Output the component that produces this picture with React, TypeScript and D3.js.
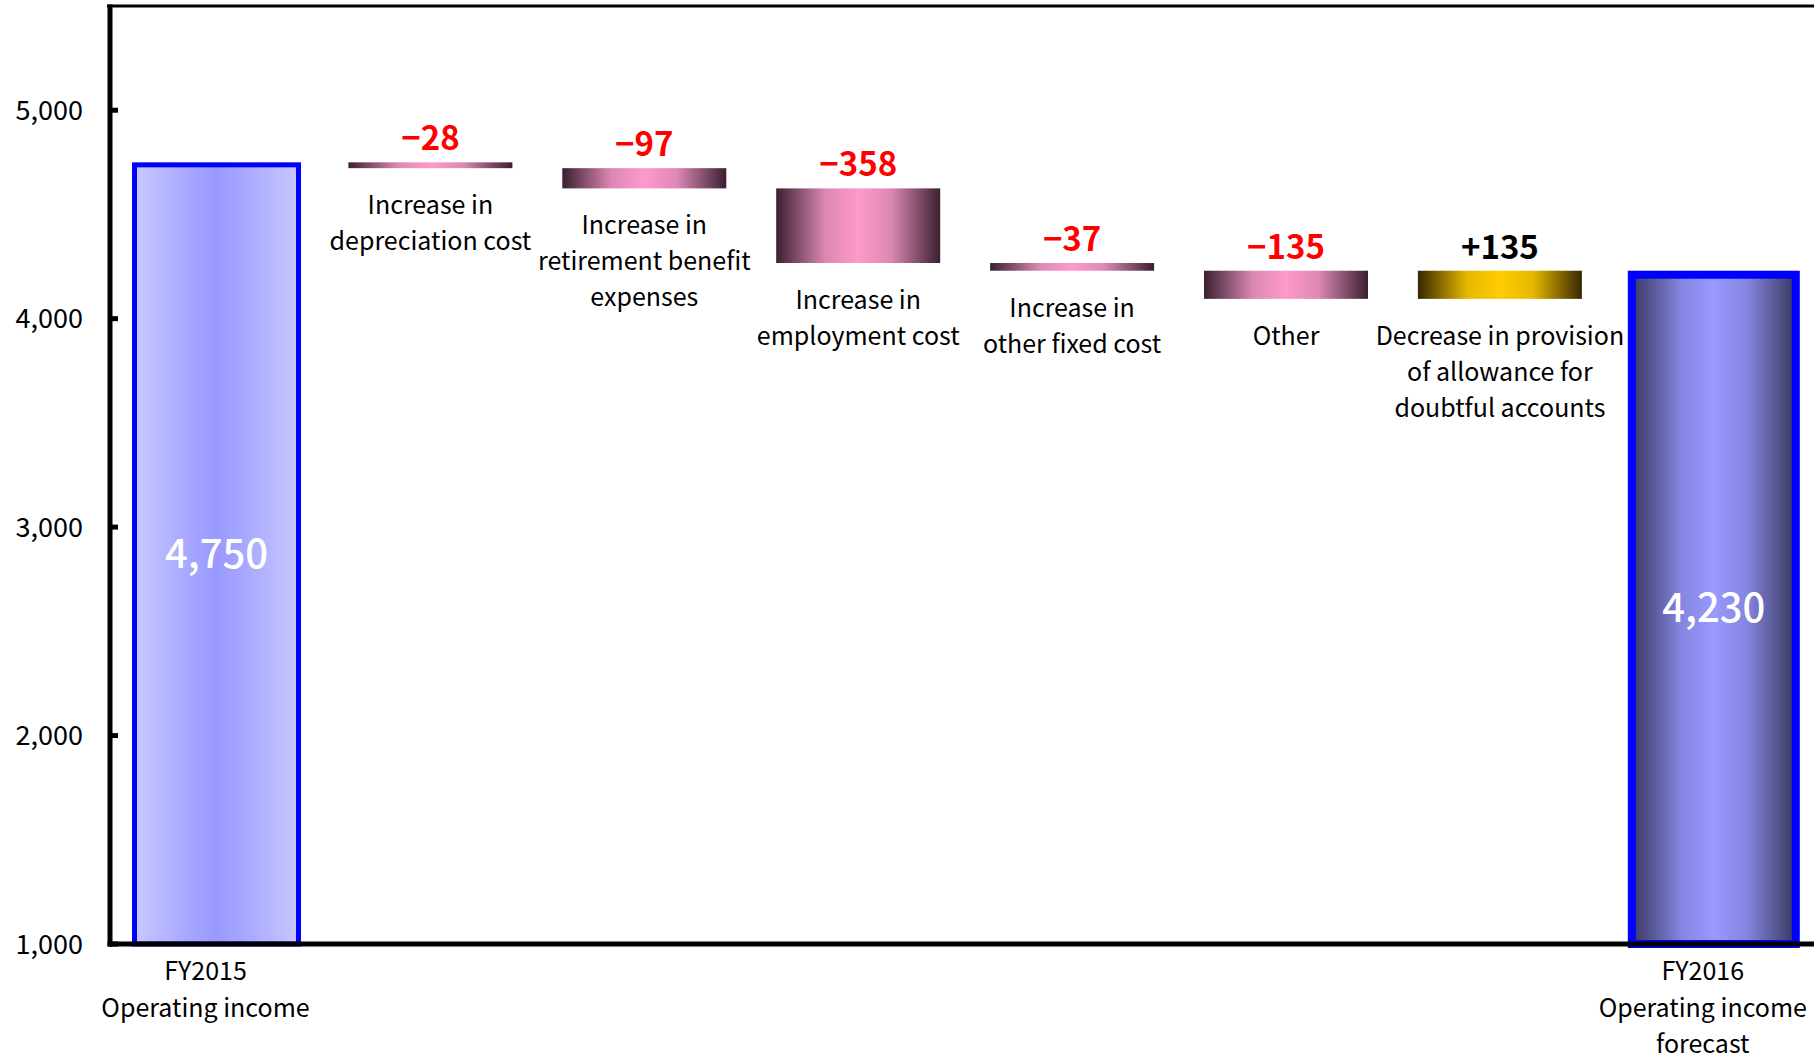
import React from "react";
import * as d3 from "d3";

const categories: string[][] = [
  ["FY2015", "Operating income"],
  ["Increase in", "depreciation cost"],
  ["Increase in", "retirement benefit", "expenses"],
  ["Increase in", "employment cost"],
  ["Increase in", "other fixed cost"],
  ["Other"],
  ["Decrease in provision", "of allowance for", "doubtful accounts"],
  ["FY2016", "Operating income", "forecast"],
];
// kind: total or delta
const kinds: string[] = ["total", "delta", "delta", "delta", "delta", "delta", "delta", "total"];
const values: number[] = [4750, -28, -97, -358, -37, -135, 135, 4230];
const valueLabels: string[] = ["4,750", "−28", "−97", "−358", "−37", "−135", "+135", "4,230"];
const yTicks: number[] = [1000, 2000, 3000, 4000, 5000];

const W = 1814;
const H = 1061;
const FONT = "'Noto Sans CJK JP', 'Noto Sans', sans-serif";

export default function App() {
  const y = d3.scaleLinear().domain([1000, 5500]).range([944, 6]);
  const x = d3
    .scalePoint<number>()
    .domain(d3.range(categories.length))
    .range([216.5, 1713.8]);
  const barW = 164;
  const axisX = 110;
  const axisY = y(1000);

  // waterfall computation
  let running = 0;
  const bars = values.map((v, i) => {
    if (kinds[i] === "total") {
      running = v;
      return { i, lo: 1000, hi: v, v };
    }
    const start = running;
    running = start + v;
    return { i, lo: Math.min(start, running), hi: Math.max(start, running), v };
  });

  const fillFor = (i: number, v: number) => {
    if (kinds[i] === "total") return i === 0 ? "url(#gBlueLight)" : "url(#gBlueDark)";
    return v < 0 ? "url(#gPink)" : "url(#gGold)";
  };

  const sym = (id: string, edge: string, mid: string, center: string) => (
    <linearGradient id={id} x1="0" x2="1" y1="0" y2="0">
      <stop offset="0" stopColor={edge} />
      <stop offset="0.3" stopColor={mid} />
      <stop offset="0.5" stopColor={center} />
      <stop offset="0.7" stopColor={mid} />
      <stop offset="1" stopColor={edge} />
    </linearGradient>
  );

  return (
    <div style={{ position: "fixed", left: 0, top: 0, width: W, height: H, background: "#fff" }}>
      <svg width={W} height={H} style={{ display: "block" }}>
        <defs>
          {sym("gPink", "#3a2030", "#dc88b4", "#ff99cc")}
          {sym("gGold", "#382800", "#e6b800", "#ffcc00")}
          {sym("gBlueLight", "#c8c8ff", "#aaaaff", "#9999ff")}
          {sym("gBlueDark", "#383860", "#8585e0", "#9999ff")}
        </defs>

        {/* top border */}
        <line x1={axisX - 3} x2={W} y1={y(5500)} y2={y(5500)} stroke="#000" strokeWidth={3} />

        {/* bars */}
        {bars.map((b) => {
          const cx = x(b.i) as number;
          const isTotal = kinds[b.i] === "total";
          const sw = isTotal ? (b.i === 0 ? 5 : 8) : 0;
          const top = y(b.hi);
          const bot = y(b.lo);
          return (
            <rect
              key={"bar" + b.i}
              x={cx - barW / 2}
              y={top + sw / 2}
              width={barW}
              height={Math.max(0, bot - top - sw / 2)}
              fill={fillFor(b.i, b.v)}
              stroke={isTotal ? "#0000ff" : "none"}
              strokeWidth={sw}
            />
          );
        })}

        {/* value labels */}
        {bars.map((b) => {
          const cx = x(b.i) as number;
          if (kinds[b.i] === "total") {
            return (
              <text
                key={"vl" + b.i}
                x={cx}
                y={(y(b.hi) + y(b.lo)) / 2}
                dy="0.36em"
                textAnchor="middle"
                fill="#fff"
                fontFamily={FONT}
                fontWeight={500}
                fontSize={40}
              >
                {valueLabels[b.i]}
              </text>
            );
          }
          return (
            <text
              key={"vl" + b.i}
              x={cx}
              y={y(b.hi) - 12}
              textAnchor="middle"
              fill={b.v < 0 ? "#ff0000" : "#000"}
              fontFamily={FONT}
              fontWeight="bold"
              fontSize={33}
            >
              {valueLabels[b.i]}
            </text>
          );
        })}

        {/* category labels for deltas */}
        {bars.map((b) => {
          if (kinds[b.i] === "total") return null;
          const cx = x(b.i) as number;
          const base = y(b.lo) + 46;
          return (
            <text
              key={"cl" + b.i}
              textAnchor="middle"
              fill="#000"
              fontFamily={FONT}
              fontSize={25}
            >
              {categories[b.i].map((line, k) => (
                <tspan key={k} x={cx} y={base + k * 36}>
                  {line}
                </tspan>
              ))}
            </text>
          );
        })}

        {/* axes */}
        <line x1={axisX} x2={axisX} y1={y(5500) - 1.5} y2={axisY + 2.5} stroke="#000" strokeWidth={5} />
        <line x1={axisX - 2.5} x2={W} y1={axisY} y2={axisY} stroke="#000" strokeWidth={5} />
        {yTicks.map((t) => (
          <g key={"t" + t}>
            <line x1={axisX} x2={axisX + 8} y1={y(t)} y2={y(t)} stroke="#000" strokeWidth={5} />
            <text
              x={83}
              y={y(t)}
              dy="0.36em"
              textAnchor="end"
              fontFamily={FONT}
              fontSize={27}
              fill="#000"
            >
              {d3.format(",")(t)}
            </text>
          </g>
        ))}

        {/* x-axis labels for totals */}
        {bars.map((b) => {
          if (kinds[b.i] !== "total") return null;
          const cx = (x(b.i) as number) - 11;
          return (
            <text key={"xl" + b.i} textAnchor="middle" fontFamily={FONT} fontSize={25} fill="#000">
              {categories[b.i].map((line, k) => (
                <tspan key={k} x={cx} y={980 + k * 36.5}>
                  {line}
                </tspan>
              ))}
            </text>
          );
        })}
      </svg>
    </div>
  );
}
